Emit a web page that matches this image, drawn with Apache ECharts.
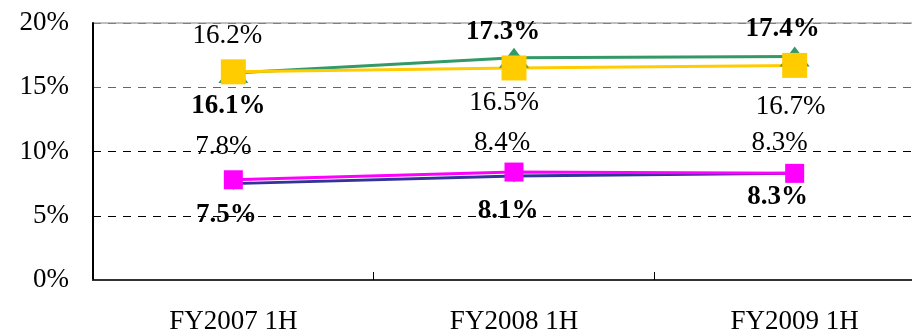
<!DOCTYPE html>
<html>
<head>
<meta charset="utf-8">
<script src="https://cdn.jsdelivr.net/npm/echarts@6/dist/echarts.min.js"></script>
<style>
html,body{margin:0;padding:0;background:#fff;}
#chart{width:912px;height:333px;}
</style>
</head>
<body>
<div id="chart"></div>
<script>
// ---- data ----
var categories = ['FY2007 1H', 'FY2008 1H', 'FY2009 1H'];
var greenValues = [16.1, 17.3, 17.4];
var yellowValues = [16.2, 16.5, 16.7];
var navyValues = [7.5, 8.1, 8.3];
var magentaValues = [7.8, 8.4, 8.3];
var yTicks = [0, 5, 10, 15, 20];

// ---- label placement (style only) ----
var greenLabelOffsets = [[-5, 33], [-11, -26], [-12, -27]];
var yellowLabelOffsets = [[-6, -36], [-10, 35], [-4, 42]];
var navyLabelOffsets = [[-7, 31], [-6, 35], [-17, 24]];
var magentaLabelOffsets = [[-10, -33], [-12, -29], [-15, -30]];

var FONT = "'Liberation Serif', 'Times New Roman', serif";

function buildData(values, offsets) {
  return values.map(function (v, i) {
    return { value: v, label: { offset: offsets[i] } };
  });
}

function makeSeries(name, values, offsets, color, symbol, size, bold, lineWidth) {
  return {
    name: name,
    type: 'line',
    data: buildData(values, offsets),
    symbol: symbol,
    symbolSize: size,
    showAllSymbol: true,
    lineStyle: { color: color, width: lineWidth },
    itemStyle: { color: color, borderWidth: 0 },
    label: {
      show: true,
      position: 'inside',
      align: 'center',
      verticalAlign: 'middle',
      formatter: function (p) { return p.value.toFixed(1) + '%'; },
      fontFamily: FONT,
      fontSize: 27,
      fontWeight: bold ? 'bold' : 'normal',
      color: '#000'
    },
    emphasis: { disabled: true }
  };
}

var chart = echarts.init(document.getElementById('chart'), null, { renderer: 'canvas' });
chart.setOption({
  animation: false,
  backgroundColor: '#fff',
  grid: {
    left: 93, top: 23, width: 842, height: 257,
    outerBoundsMode: 'none',
    containLabel: false,
    show: true, borderColor: '#808080', borderWidth: 1, backgroundColor: 'transparent'
  },
  xAxis: {
    type: 'category',
    data: categories,
    boundaryGap: true,
    axisLine: { lineStyle: { color: '#333', width: 2 } },
    axisTick: { show: true, inside: true, length: 8, lineStyle: { color: '#000', width: 1 } },
    axisLabel: { fontFamily: FONT, fontSize: 27, color: '#000', margin: 28 },
    splitLine: { show: false }
  },
  yAxis: {
    type: 'value',
    min: yTicks[0],
    max: yTicks[yTicks.length - 1],
    interval: yTicks[1] - yTicks[0],
    axisLine: { show: true, lineStyle: { color: '#000', width: 2 } },
    axisTick: { show: false },
    axisLabel: {
      fontFamily: FONT, fontSize: 27, color: '#000', margin: 24,
      formatter: function (v) { return v + '%'; }
    },
    splitLine: {
      show: true,
      lineStyle: { color: ['#000', '#000', '#000', '#666', '#808080'], type: [8, 7], width: 1 }
    }
  },
  series: [
    makeSeries('green', greenValues, greenLabelOffsets, '#339966', 'triangle', [30, 20], true, 3),
    makeSeries('yellow', yellowValues, yellowLabelOffsets, '#FFCC00', 'rect', 25, false, 3),
    makeSeries('navy', navyValues, navyLabelOffsets, '#333399', 'diamond', 12, true, 3),
    makeSeries('magenta', magentaValues, magentaLabelOffsets, '#FF00FF', 'rect', 19, false, 3)
  ]
});
</script>
</body>
</html>
